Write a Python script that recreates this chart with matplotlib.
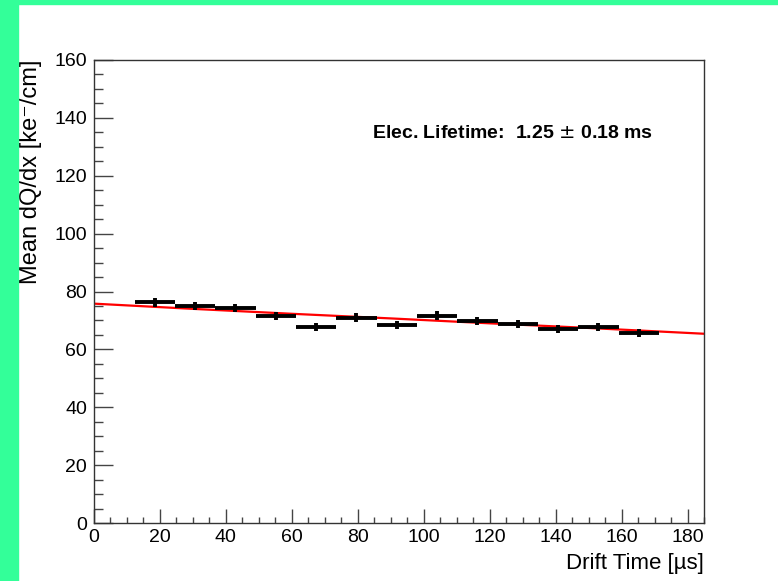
import numpy as np
import matplotlib
matplotlib.use('Agg')
import matplotlib.pyplot as plt
from matplotlib.patches import Rectangle
from matplotlib.ticker import MultipleLocator

plt.rcParams['font.family'] = ['Liberation Sans', 'DejaVu Sans']

# binned mean dQ/dx vs drift time
t_centers = [18.5, 30.7, 42.9, 55.2, 67.4, 79.6, 91.9, 104.1, 116.3, 128.6, 140.8, 153.0, 165.3]
t_halfwidth = [6.1] * 13
dqdx = [76.2, 74.9, 74.3, 71.4, 67.7, 71.0, 68.5, 71.7, 69.7, 68.8, 67.1, 67.6, 65.6]
dqdx_err = [1.4] * 13

# exponential fit curve
fit_t = [0, 30, 60, 90, 120, 150, 185]
fit_y = [75.8, 74.0, 72.3, 70.7, 69.0, 67.4, 65.4]

lifetime_text = r'Elec. Lifetime:  1.25 $\pm$ 0.18 ms'

fig = plt.figure(figsize=(7.78, 5.81), dpi=100)
fig.patches.append(Rectangle((0, 0), 18/778, 1, transform=fig.transFigure, color='#33ff99', zorder=0))
fig.patches.append(Rectangle((0, 1 - 4/581), 1, 4/581, transform=fig.transFigure, color='#33ff99', zorder=0))

ax = fig.add_axes([94/778, 1 - 523/581, (704 - 94)/778, (523 - 60)/581])

ax.plot(fit_t, fit_y, color='red', lw=1.6, zorder=2)
ax.errorbar(t_centers, dqdx, xerr=t_halfwidth, yerr=dqdx_err, fmt='none',
            ecolor='black', elinewidth=2.8, capsize=0, zorder=3)

ax.set_xlim(0, 185)
ax.set_ylim(0, 160)
ax.xaxis.set_major_locator(MultipleLocator(20))
ax.xaxis.set_minor_locator(MultipleLocator(5))
ax.yaxis.set_major_locator(MultipleLocator(20))
ax.yaxis.set_minor_locator(MultipleLocator(5))
ax.tick_params(which='both', direction='in', top=False, right=False, labelsize=14, color='#444444', width=1)
ax.tick_params(axis='x', which='major', length=10, pad=4)
ax.tick_params(axis='x', which='minor', length=4.5)
ax.tick_params(axis='y', which='major', length=13.7, pad=5)
ax.tick_params(axis='y', which='minor', length=6.5)
for s in ax.spines.values():
    s.set_linewidth(1.0)
    s.set_color('#333333')

ax.set_ylabel('Mean dQ/dx [ke⁻/cm]', fontsize=17, loc='top')
ax.yaxis.set_label_coords(-0.085, 1.0)
ax.set_xlabel('Drift Time [µs]', fontsize=16, loc='right')
ax.xaxis.set_label_coords(1.0, -0.065)

ax.text(0.456, 0.842, lifetime_text, transform=ax.transAxes, fontsize=14,
        fontweight='bold', ha='left', va='center')

fig.savefig('out.png', dpi=100)
